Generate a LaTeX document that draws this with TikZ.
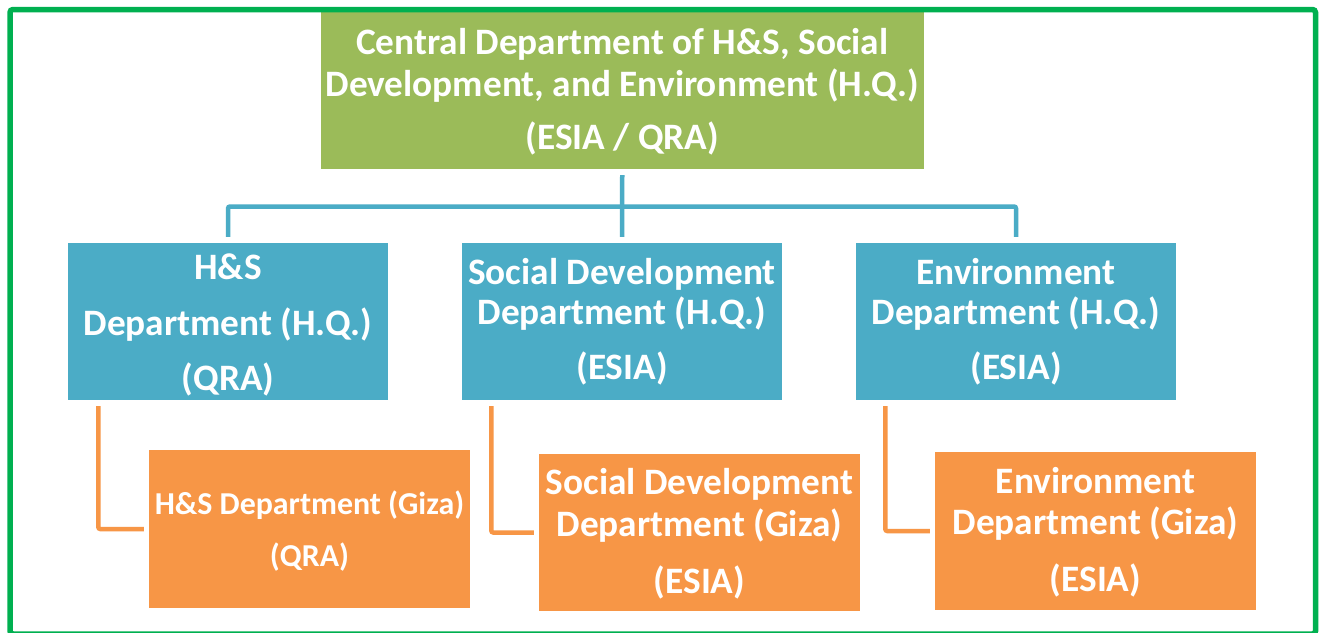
\documentclass[tikz,border=0pt]{standalone}
\usepackage{fontspec}
\setmainfont{Carlito}
\usetikzlibrary{calc}
\definecolor{frameG}{HTML}{00B050}
\definecolor{topG}{HTML}{9BBB59}
\definecolor{blueB}{HTML}{4BACC6}
\definecolor{orangeB}{HTML}{F79646}
\tikzset{
  gbox/.style={fill=topG, draw=none, inner sep=0pt},
  bbox/.style={fill=blueB, draw=none, inner sep=0pt, minimum width=320pt, minimum height=157pt},
  obox/.style={fill=orangeB, draw=none, inner sep=0pt, minimum width=321pt, minimum height=158pt},
  txt/.style={text=white, align=center, anchor=base, inner sep=0pt},
  bline/.style={draw=blueB, line width=4.5pt, rounded corners=2pt},
  oline/.style={draw=orangeB, line width=4.5pt, rounded corners=2pt},
}
\begin{document}
\begin{tikzpicture}[x=1pt,y=-1pt]
\useasboundingbox (0,0) rectangle (1320,632);
\fill[white] (0,0) rectangle (1320,632);
% top box
\node[gbox, minimum width=603.5pt, minimum height=158pt] (top) at (622.25,90) {};
% blue boxes
\node[bbox] (hs) at (228,321.5) {};
\node[bbox] (sd) at (622,321.5) {};
\node[bbox] (env) at (1016,321.5) {};
% orange boxes
\node[obox] (hsg) at (309.5,529) {};
\node[obox, minimum height=157pt] (sdg) at (699.5,532.5) {};
\node[obox] (envg) at (1095.5,531) {};
% frame
\draw[frameG, line width=5.5pt, rounded corners=3pt] (10,9.5) rectangle (1315.5,634);
% texts (base anchor = baseline of last line)
\node[txt, font=\fontsize{37.3}{42}\selectfont\bfseries] (ttop) at (622.25,149)
  {Central Department of H\&S, Social\\Development, and Environment (H.Q.)\\[11pt](ESIA / QRA)};
\node[txt, font=\fontsize{37.3}{40}\selectfont\bfseries] (ths) at (228,390)
  {H\&S\\[16pt]Department (H.Q.)\\[15pt](QRA)};
\node[txt, font=\fontsize{37.3}{40}\selectfont\bfseries] (tsd) at (622,379)
  {Social Development\\Department (H.Q.)\\[15pt](ESIA)};
\node[txt, font=\fontsize{37.3}{40}\selectfont\bfseries] (tenv) at (1016,379)
  {Environment\\Department (H.Q.)\\[15pt](ESIA)};
\node[txt, font=\fontsize{31.9}{52}\selectfont\bfseries] (thsg) at (309.5,566)
  {H\&S Department (Giza)\\(QRA)};
\node[txt, font=\fontsize{37.3}{42}\selectfont\bfseries] (tsdg) at (699.5,593)
  {Social Development\\Department (Giza)\\[15pt](ESIA)};
\node[txt, font=\fontsize{37.3}{41}\selectfont\bfseries] (tenvg) at (1095.5,591)
  {Environment\\Department (Giza)\\[16pt](ESIA)};
% blue connectors
\coordinate (bus) at (622,206.5);
\draw[bline] ($(hs.north)+(0,-6)$) |- (bus) -| ($(env.north)+(0,-6)$);
\draw[bline] ($(top.south)+(0,6)$) -- ($(sd.north)+(0,-6)$);
% orange connectors
\draw[oline] ($(hs.south west)+(30.5,6)$) |- ($(hsg.west)+(-5,0)$);
\draw[oline] ($(sd.south west)+(29.5,6)$) |- ($(sdg.west)+(-5,0)$);
\draw[oline] ($(env.south west)+(29.5,6)$) |- ($(envg.west)+(-5,0)$);
\end{tikzpicture}
\end{document}
